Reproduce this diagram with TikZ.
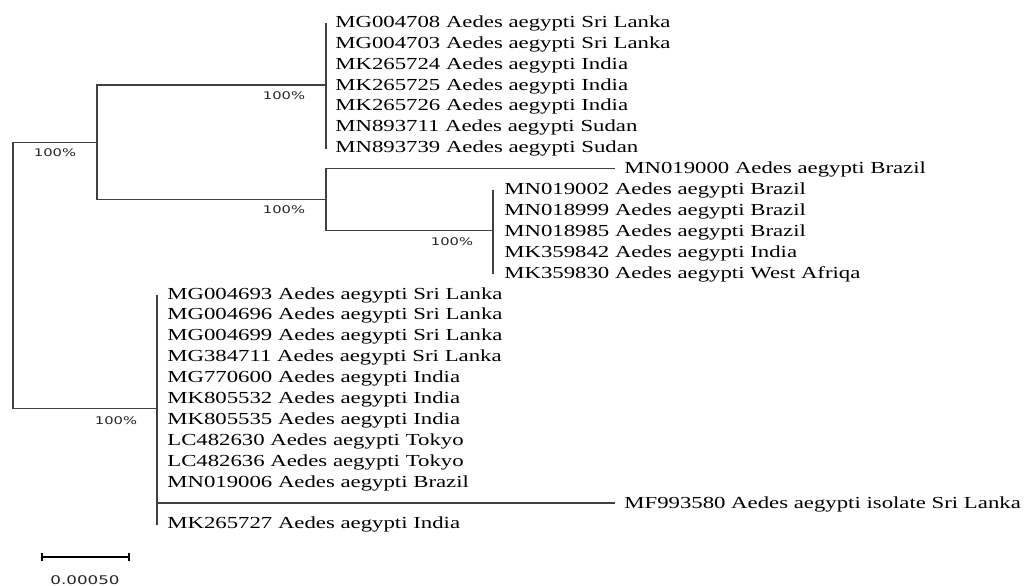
\documentclass[tikz,border=0pt]{standalone}
\usepackage{fontspec}
\setmainfont{Liberation Serif}
\newfontfamily\taxonfont[FakeStretch=1.35]{Liberation Serif}
\newfontfamily\bootfont[FakeStretch=1.4]{DejaVu Sans}
\begin{document}
\begin{tikzpicture}[x=0.02cm,y=-0.02cm,
  branch/.style={draw=black!75,line width=0.75pt},
  taxon/.style={anchor=base west,inner sep=0pt,font=\taxonfont\fontsize{9.6}{11}\selectfont},
  boot/.style={inner sep=0pt,text=black!85,font=\bootfont\fontsize{6}{7}\selectfont}]
  \useasboundingbox (0,0) rectangle (1024,585);
  % taxa, one row each
  \foreach \tx/\name [count=\i from 0] in {
      335/MG004708 Aedes aegypti Sri Lanka, 335/MG004703 Aedes aegypti Sri Lanka,
      335/MK265724 Aedes aegypti India, 335/MK265725 Aedes aegypti India,
      335/MK265726 Aedes aegypti India, 335/MN893711 Aedes aegypti Sudan,
      335/MN893739 Aedes aegypti Sudan, 624/MN019000 Aedes aegypti Brazil,
      504/MN019002 Aedes aegypti Brazil, 504/MN018999 Aedes aegypti Brazil,
      504/MN018985 Aedes aegypti Brazil, 504/MK359842 Aedes aegypti India,
      504/MK359830 Aedes aegypti West Afriqa, 167/MG004693 Aedes aegypti Sri Lanka,
      167/MG004696 Aedes aegypti Sri Lanka, 167/MG004699 Aedes aegypti Sri Lanka,
      167/MG384711 Aedes aegypti Sri Lanka, 167/MG770600 Aedes aegypti India,
      167/MK805532 Aedes aegypti India, 167/MK805535 Aedes aegypti India,
      167/LC482630 Aedes aegypti Tokyo, 167/LC482636 Aedes aegypti Tokyo,
      167/MN019006 Aedes aegypti Brazil, 624/MF993580 Aedes aegypti isolate Sri Lanka,
      167/MK265727 Aedes aegypti India}
    \node[taxon] (t\i) at (\tx,{27.3+20.9*\i}) {\name};
  % internal nodes
  \coordinate (root) at (13,275.5);
  \coordinate (nUp) at (97,142.3);
  \coordinate (nA) at (326,85);
  \coordinate (nB) at (326,199.6);
  \coordinate (nC) at (493,230.8);
  \coordinate (nD) at (157,408.7);
  \coordinate (tMN) at (615,168.3);
  \coordinate (tMF) at (615,503);
  % branches
  \draw[branch] (root) |- (nUp);
  \draw[branch] (root) |- (nD);
  \draw[branch] (nUp) |- (nA);
  \draw[branch] (nUp) |- (nB);
  \draw[branch] (nB) |- (tMN);
  \draw[branch] (nB) |- (nC);
  \draw[branch] (nD |- tMF) -- (tMF);
  % clades with zero-length tips
  \draw[branch] (nA |- t0.mid) -- (nA |- t6.mid);
  \draw[branch] (nC |- t8.mid) -- (nC |- t12.mid);
  \draw[branch] (nD |- t13.mid) -- (nD |- t24.mid);
  % bootstrap values
  \node[boot] at (284,95.5) {100\%};
  \node[boot] at (55,153) {100\%};
  \node[boot] at (284,210) {100\%};
  \node[boot] at (452,242) {100\%};
  \node[boot] at (116,421) {100\%};
  % scale bar
  \coordinate (s1) at (42,556.7);
  \coordinate (s2) at (129,556.7);
  \draw[line width=1.1pt] (s1) -- (s2);
  \draw[line width=1.1pt] ([yshift=0.08cm]s1) -- ([yshift=-0.08cm]s1);
  \draw[line width=1.1pt] ([yshift=0.08cm]s2) -- ([yshift=-0.08cm]s2);
  \node[boot,font=\bootfont\fontsize{6.8}{8}\selectfont] at (85,580) {0.00050};
\end{tikzpicture}
\end{document}
